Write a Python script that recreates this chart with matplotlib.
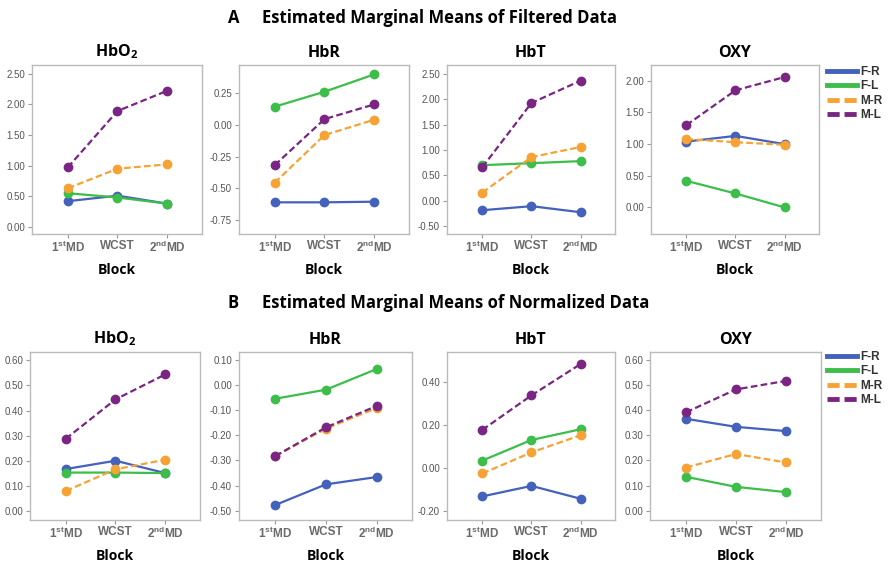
import matplotlib
matplotlib.use('Agg')
import matplotlib.pyplot as plt
from matplotlib.lines import Line2D
import numpy as np

blocks = ['1$\\mathregular{^{st}}$MD', 'WCST', '2$\\mathregular{^{nd}}$MD']
groups = ['F-R', 'F-L', 'M-R', 'M-L']
measures = ['HbO$\\mathregular{_2}$', 'HbR', 'HbT', 'OXY']

# A: filtered data, one list per measure, rows = F-R, F-L, M-R, M-L
filt_hbo2 = [[0.42, 0.51, 0.38], [0.55, 0.48, 0.38], [0.63, 0.95, 1.02], [0.97, 1.89, 2.22]]
filt_hbr = [[-0.61, -0.61, -0.605], [0.145, 0.263, 0.40], [-0.455, -0.079, 0.042], [-0.316, 0.047, 0.163]]
filt_hbt = [[-0.19, -0.11, -0.23], [0.70, 0.74, 0.78], [0.16, 0.86, 1.06], [0.66, 1.93, 2.37]]
filt_oxy = [[1.04, 1.13, 1.00], [0.42, 0.22, 0.00], [1.08, 1.03, 0.99], [1.30, 1.85, 2.06]]

# B: normalized data
norm_hbo2 = [[0.168, 0.201, 0.152], [0.154, 0.154, 0.152], [0.081, 0.167, 0.205], [0.288, 0.444, 0.543]]
norm_hbr = [[-0.477, -0.395, -0.366], [-0.054, -0.018, 0.064], [-0.282, -0.173, -0.091], [-0.282, -0.168, -0.083]]
norm_hbt = [[-0.133, -0.084, -0.144], [0.034, 0.130, 0.180], [-0.026, 0.072, 0.152], [0.177, 0.338, 0.484]]
norm_oxy = [[0.366, 0.334, 0.317], [0.135, 0.095, 0.074], [0.172, 0.226, 0.192], [0.392, 0.483, 0.517]]

colors = ['#4461bb', '#3dbd4a', '#f7a234', '#7a2583']
styles = ['-', '-', '--', '--']

TITLE_FONT = ['Open Sans', 'DejaVu Sans']
TICK_FONT = ['Liberation Sans', 'DejaVu Sans']

W, H = 890, 562
fig = plt.figure(figsize=(W / 100, H / 100), dpi=100)

def px_axes(x0, x1, y0, y1):
    return fig.add_axes([x0 / W, 1 - y1 / H, (x1 - x0) / W, (y1 - y0) / H])

def draw_panel(ax, data, title, ylim, yticks):
    x = np.arange(len(blocks))
    for i in range(len(groups)):
        ax.plot(x, data[i], linestyle=styles[i], color=colors[i], lw=1.6,
                marker='o', ms=6, dashes=(3, 1.5) if styles[i] == '--' else (None, None))
    ax.set_xlim(-0.72, 2.7)
    ax.set_ylim(ylim)
    ax.set_yticks(yticks)
    ax.set_yticklabels(['%.2f' % t for t in yticks], family=TICK_FONT, fontsize=7, color='#555555')
    ax.set_xticks(x)
    ax.set_xticklabels(blocks, family=TICK_FONT, fontsize=8.5, color='#6a6a6a', fontweight='bold')
    ax.tick_params(axis='both', color='#999999', length=3, width=0.8)
    ax.tick_params(axis='y', pad=2)
    ax.tick_params(axis='x', pad=1)
    for s in ax.spines.values():
        s.set_color('#bbbbbb')
        s.set_linewidth(1.0)
    ax.set_title(title, family=TITLE_FONT, fontsize=11.5, fontweight='bold', pad=6)
    ax.set_xlabel('Block', family=TITLE_FONT, fontsize=10, fontweight='bold', labelpad=6)

filt_data = [filt_hbo2, filt_hbr, filt_hbt, filt_oxy]
norm_data = [norm_hbo2, norm_hbr, norm_hbt, norm_oxy]

filt_lims = [(-0.115, 2.64), (-0.86, 0.474), (-0.66, 2.68), (-0.42, 2.25)]
filt_ticks = [[0, 0.5, 1.0, 1.5, 2.0, 2.5], [-0.75, -0.5, -0.25, 0, 0.25],
              [-0.5, 0, 0.5, 1.0, 1.5, 2.0, 2.5], [0, 0.5, 1.0, 1.5, 2.0]]
norm_lims = [(-0.034, 0.632), (-0.537, 0.132), (-0.243, 0.54), (-0.037, 0.632)]
norm_ticks = [[0, 0.1, 0.2, 0.3, 0.4, 0.5, 0.6], [-0.5, -0.4, -0.3, -0.2, -0.1, 0, 0.1],
              [-0.2, 0, 0.2, 0.4], [0, 0.1, 0.2, 0.3, 0.4, 0.5, 0.6]]

row_a = [(32, 202), (239, 409), (447, 615), (651, 819)]
row_b = [(30, 200), (239, 412), (447, 615), (650, 821)]

for k in range(4):
    ax = px_axes(row_a[k][0], row_a[k][1], 65, 234)
    draw_panel(ax, filt_data[k], measures[k], filt_lims[k], filt_ticks[k])
    ax = px_axes(row_b[k][0], row_b[k][1], 352, 520)
    draw_panel(ax, norm_data[k], measures[k], norm_lims[k], norm_ticks[k])

handles = [Line2D([], [], color=colors[i], lw=3.5, linestyle=styles[i],
                  dashes=(2.5, 1) if styles[i] == '--' else (None, None)) for i in range(4)]
for ytop in [66, 351]:
    fig.legend(handles, groups, loc='upper left', bbox_to_anchor=(827 / W, 1 - ytop / H),
               frameon=False, handlelength=2.5, handletextpad=0.35, labelspacing=0.2,
               borderpad=0, borderaxespad=0,
               prop={'family': TICK_FONT, 'size': 8.5, 'weight': 'bold'}, labelcolor='#333333')

fig.text(228 / W, 1 - 18 / H, 'A', family=TITLE_FONT, fontsize=12, fontweight='bold', va='center')
fig.text(262 / W, 1 - 18 / H, 'Estimated Marginal Means of Filtered Data', family=TITLE_FONT,
         fontsize=12, fontweight='bold', va='center')
fig.text(228 / W, 1 - 303 / H, 'B', family=TITLE_FONT, fontsize=12, fontweight='bold', va='center')
fig.text(262 / W, 1 - 303 / H, 'Estimated Marginal Means of Normalized Data', family=TITLE_FONT,
         fontsize=12, fontweight='bold', va='center')

fig.savefig('out.png', dpi=100, facecolor='white')
